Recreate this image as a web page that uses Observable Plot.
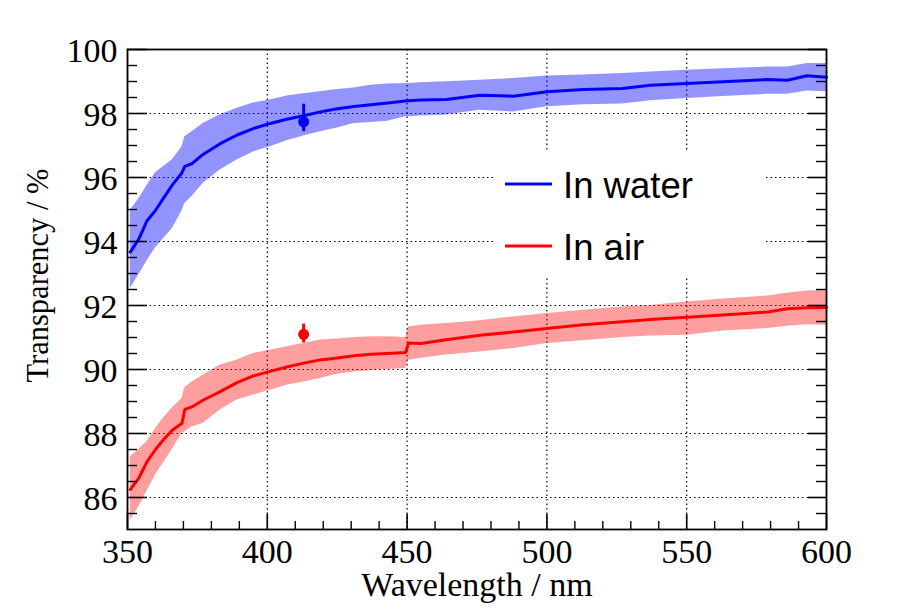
<!DOCTYPE html>
<html>
<head>
<meta charset="utf-8">
<script src="https://cdn.jsdelivr.net/npm/d3@7"></script>
<script src="https://cdn.jsdelivr.net/npm/@observablehq/plot@0.6"></script>
<style>
  html, body { margin: 0; padding: 0; background: white; }
  #wrap { position: relative; width: 900px; height: 614px; }
  #legend { position: absolute; left: 495px; top: 152px; }
</style>
</head>
<body>
<div id="wrap"></div>
<script>
// ---- data ----
const wavelength = [351, 354, 357, 360, 363, 366, 369.5, 370.5, 373, 377, 383, 389, 395, 401, 407, 413, 419, 425, 431, 437, 443, 449.5, 450.5, 455, 464, 476, 488, 500, 513, 527, 537, 550, 563, 579, 586, 593, 600];

const waterT  = [93.67, 94.07, 94.65, 94.97, 95.37, 95.76, 96.15, 96.35, 96.43, 96.72, 97.05, 97.32, 97.53, 97.69, 97.82, 97.93, 98.05, 98.15, 98.22, 98.27, 98.33, 98.39, 98.40, 98.42, 98.44, 98.57, 98.54, 98.68, 98.75, 98.78, 98.88, 98.94, 98.99, 99.06, 99.04, 99.18, 99.13];
const waterHi = [94.98, 95.33, 95.75, 96.15, 96.35, 96.55, 96.96, 97.27, 97.42, 97.69, 97.95, 98.16, 98.33, 98.42, 98.55, 98.62, 98.68, 98.75, 98.80, 98.88, 98.92, 98.94, 98.94, 98.96, 98.99, 99.04, 99.09, 99.17, 99.20, 99.25, 99.30, 99.35, 99.40, 99.45, 99.45, 99.56, 99.56];
const waterLo = [92.53, 92.95, 93.40, 93.80, 94.10, 94.40, 94.95, 95.19, 95.40, 95.81, 96.23, 96.54, 96.80, 96.96, 97.15, 97.30, 97.43, 97.55, 97.69, 97.72, 97.76, 97.90, 97.90, 97.92, 97.95, 98.10, 98.05, 98.21, 98.27, 98.30, 98.40, 98.47, 98.53, 98.60, 98.60, 98.70, 98.68];

const airT  = [86.25, 86.60, 87.12, 87.50, 87.82, 88.10, 88.32, 88.75, 88.83, 89.04, 89.30, 89.58, 89.80, 89.94, 90.08, 90.20, 90.30, 90.36, 90.43, 90.48, 90.50, 90.53, 90.83, 90.81, 90.93, 91.07, 91.17, 91.28, 91.40, 91.49, 91.56, 91.63, 91.70, 91.80, 91.90, 91.93, 91.94];
const airHi = [87.27, 87.50, 87.75, 88.15, 88.50, 88.80, 89.09, 89.44, 89.60, 89.82, 90.13, 90.29, 90.50, 90.60, 90.71, 90.81, 90.92, 90.95, 91.00, 91.02, 91.02, 91.00, 91.33, 91.38, 91.44, 91.52, 91.64, 91.75, 91.85, 91.95, 92.00, 92.11, 92.20, 92.30, 92.38, 92.45, 92.48];
const airLo = [85.29, 85.70, 86.20, 86.70, 87.10, 87.50, 88.00, 88.05, 88.20, 88.31, 88.73, 89.04, 89.20, 89.35, 89.51, 89.61, 89.72, 89.85, 89.92, 89.96, 90.00, 90.03, 90.29, 90.35, 90.45, 90.55, 90.66, 90.81, 90.90, 91.00, 91.05, 91.07, 91.20, 91.28, 91.35, 91.40, 91.38];

// single measurements with error bars
const pointWl  = [413, 413];
const pointVal = [97.74, 91.10];
const pointLo  = [97.43, 90.83];
const pointHi  = [98.29, 91.42];
const pointColor = ["#0000ff", "#ff0000"];

// axes
const xMajor = [350, 400, 450, 500, 550, 600];
const xMinor = d3.range(350, 601, 10).filter(v => v % 50 !== 0);
const yMajor = [86, 88, 90, 92, 94, 96, 98, 100];
const yMinor = d3.range(85.5, 100, 0.5).filter(v => v % 2 !== 0);

const seriesNames = ["In water", "In air"];
const seriesColors = ["#0000ff", "#ff0000"];

// ---- tables ----
const water = wavelength.map((w, i) => ({wl: w, t: waterT[i], lo: waterLo[i], hi: waterHi[i]}));
const air = wavelength.map((w, i) => ({wl: w, t: airT[i], lo: airLo[i], hi: airHi[i]}));
const points = pointWl.map((w, i) => ({wl: w, v: pointVal[i], lo: pointLo[i], hi: pointHi[i], c: pointColor[i]}));

const W = 900, H = 614, ML = 127, MR = 74, MT = 49, MB = 85;
const PW = W - ML - MR, PH = H - MT - MB;

const grid = {stroke: "black", strokeWidth: 1.2, strokeDasharray: "1.5,3", strokeOpacity: 1};

const chart = Plot.plot({
  width: W, height: H,
  marginLeft: ML, marginRight: MR, marginTop: MT, marginBottom: MB,
  style: {fontFamily: "'Liberation Serif', 'Times New Roman', serif", fontSize: "34px", background: "white", color: "black"},
  x: {domain: [350, 600]},
  y: {domain: [85, 100]},
  marks: [
    Plot.ruleX(xMajor, {x: d => d, ...grid}),
    Plot.ruleY(yMajor, {y: d => d, ...grid}),
    Plot.areaY(water, {x: "wl", y1: "lo", y2: "hi", fill: "#0000ff", fillOpacity: 0.42}),
    Plot.areaY(air, {x: "wl", y1: "lo", y2: "hi", fill: "#ff0000", fillOpacity: 0.38}),
    Plot.lineY(water, {x: "wl", y: "t", stroke: "#0000ff", strokeWidth: 3}),
    Plot.lineY(air, {x: "wl", y: "t", stroke: "#ff0000", strokeWidth: 3}),
    Plot.ruleX(points, {x: "wl", y1: "lo", y2: "hi", stroke: "c", strokeWidth: 3}),
    Plot.dot(points, {x: "wl", y: "v", r: 5.5, fill: "c", stroke: "none"}),
    // inward ticks: left and right y, bottom x
    Plot.tickY(yMajor, {y: d => d, insetRight: PW - 20, stroke: "black", strokeWidth: 1.6}),
    Plot.tickY(yMinor, {y: d => d, insetRight: PW - 10, stroke: "black", strokeWidth: 1.4}),
    Plot.tickY(yMajor, {y: d => d, insetLeft: PW - 18, stroke: "black", strokeWidth: 1.6}),
    Plot.tickY(yMinor, {y: d => d, insetLeft: PW - 10, stroke: "black", strokeWidth: 1.4}),
    Plot.tickX(xMajor, {x: d => d, insetTop: PH - 15, stroke: "black", strokeWidth: 1.6}),
    Plot.tickX(xMinor, {x: d => d, insetTop: PH - 8, stroke: "black", strokeWidth: 1.4}),
    Plot.frame({stroke: "black", strokeWidth: 1.8}),
    Plot.axisY({ticks: yMajor, tickSize: 0, tickPadding: 10, label: null, dy: 2, fontSize: 34}),
    Plot.axisX({ticks: xMajor, tickSize: 0, tickPadding: 9, label: null, fontSize: 34}),
    Plot.text(["Wavelength / nm"], {frameAnchor: "bottom", textAnchor: "middle", lineAnchor: "middle", dy: 56, fontSize: 34, fill: "black"}),
    Plot.text(["Transparency / %"], {frameAnchor: "left", textAnchor: "middle", lineAnchor: "middle", rotate: -90, dx: -89.5, dy: -14, fontSize: 30.5, fill: "black"})
  ]
});

const wrap = document.getElementById("wrap");
wrap.appendChild(chart);

// legend (overlaid box, white background, no border)
const lg = d3.select(wrap).append("svg")
  .attr("id", "legend")
  .attr("width", 270).attr("height", 126);
lg.append("rect").attr("width", 270).attr("height", 126).attr("fill", "white");
const rows = lg.selectAll("g").data(seriesNames).join("g")
  .attr("transform", (d, i) => `translate(0, ${32 + i * 62})`);
rows.append("line").attr("x1", 10).attr("x2", 57).attr("y1", 0).attr("y2", 0)
  .attr("stroke", (d, i) => seriesColors[i]).attr("stroke-width", 3);
rows.append("text").attr("x", 68).attr("y", 14)
  .attr("font-family", "'Liberation Sans', Arial, sans-serif")
  .attr("font-size", 36.5).attr("fill", "black").text(d => d);
</script>
</body>
</html>
